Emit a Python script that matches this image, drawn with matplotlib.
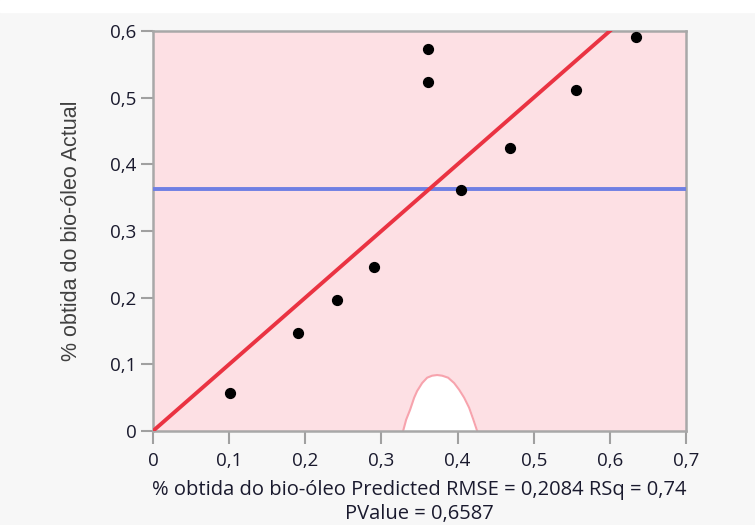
"""Actual by predicted plot for bio-oil yield."""

import matplotlib.pyplot as plt
from matplotlib.patches import Rectangle

plt.rcParams['font.family'] = ['Open Sans', 'DejaVu Sans']

predicted = [0.101, 0.191, 0.242, 0.290, 0.361, 0.361, 0.405, 0.469, 0.556, 0.635]
actual = [0.057, 0.147, 0.196, 0.246, 0.573, 0.523, 0.361, 0.424, 0.511, 0.591]

# confidence curve that dips into the bottom of the plot
curve_x = [0.3285, 0.3325, 0.3377, 0.3430, 0.3469, 0.3535, 0.3601, 0.3666,
           0.3732, 0.3798, 0.3876, 0.3955, 0.4021, 0.4087, 0.4152, 0.4205, 0.4258]
curve_y = [0.000, 0.017, 0.032, 0.050, 0.060, 0.072, 0.080, 0.083,
           0.084, 0.083, 0.080, 0.072, 0.062, 0.050, 0.035, 0.018, 0.000]

xticks = [0, 0.1, 0.2, 0.3, 0.4, 0.5, 0.6, 0.7]
yticks = [0, 0.1, 0.2, 0.3, 0.4, 0.5, 0.6]


def fmt(v):
    return '0' if v == 0 else f'{v:.1f}'.replace('.', ',')


fig = plt.figure(figsize=(7.55, 5.25), dpi=100, facecolor='#f7f7f7')
fig.patches.append(Rectangle((0, 0.977), 1, 0.023, transform=fig.transFigure,
                             color='white', zorder=0))
ax = fig.add_axes([0.2026, 0.179, 0.706, 0.762])
ax.set_facecolor('#fde0e4')

mean_y = sum(actual) / len(actual)
ax.fill_between(curve_x, 0, curve_y, color='white', zorder=1)
ax.plot(curve_x, curve_y, color='#f7a3ad', lw=1.5, zorder=2)
ax.axhline(mean_y, color='#6f7fe3', lw=2.8, zorder=3)
ax.plot([0, 0.7], [0, 0.7], color='#ea3342', lw=2.8, zorder=4)
ax.scatter(predicted, actual, s=50, color='black', zorder=5)

ax.set_xlim(0, 0.7)
ax.set_ylim(0, 0.6)
ax.set_xticks(xticks)
ax.set_xticklabels([fmt(v) for v in xticks])
ax.set_yticks(yticks)
ax.set_yticklabels([fmt(v) for v in yticks])
ax.tick_params(direction='out', length=9, width=1.5, color='#a0a0a0',
               labelsize=13.5, labelcolor='#1a1a2e', pad=3)
ax.tick_params(axis='x', pad=6)

for s in ax.spines.values():
    s.set_color('#a8a8a8')
    s.set_linewidth(1.8)

ax.set_xlabel('% obtida do bio-óleo Predicted RMSE = 0,2084 RSq = 0,74\nPValue = 0,6587',
              fontsize=14.5, color='#1a1a2e', labelpad=7, linespacing=1.3)
ax.set_ylabel('% obtida do bio-óleo Actual', fontsize=15.5, color='#404040',
              family=['Liberation Sans', 'DejaVu Sans'], labelpad=20)

fig.savefig('out.png', dpi=100, facecolor=fig.get_facecolor())
